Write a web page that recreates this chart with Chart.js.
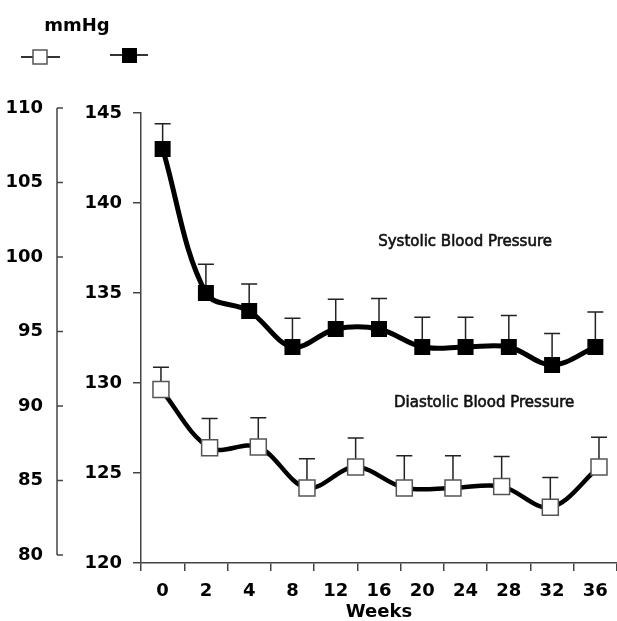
<!DOCTYPE html>
<html>
<head>
<meta charset="utf-8">
<script src="https://cdn.jsdelivr.net/npm/chart.js@4.4.0/dist/chart.umd.min.js"></script>
<style>
  html, body { margin: 0; padding: 0; background: #fff; overflow: hidden; }
  canvas { display: block; }
</style>
</head>
<body>
<canvas id="bpChart" width="617" height="621"></canvas>
<script>
var weeks = ['0', '2', '4', '8', '12', '16', '20', '24', '28', '32', '36'];
var systolic = [143, 135, 134, 132, 133, 133, 132, 132, 132, 131, 132];
var systolicErr = [1.4, 1.6, 1.5, 1.6, 1.65, 1.7, 1.65, 1.65, 1.75, 1.75, 1.95];
var diastolic = [91.1, 87.2, 87.25, 84.5, 85.9, 84.5, 84.5, 84.6, 83.2, 85.9];
var diastolicErr = [1.5, 1.95, 1.95, 1.95, 1.95, 2.15, 2.15, 2.0, 2.0, 2.0];
var systolicTicks = [120, 125, 130, 135, 140, 145];
var diastolicTicks = [80, 85, 90, 95, 100, 105, 110];

var tickFont = { family: 'DejaVu Sans', weight: 'bold', size: 18 };
var axisColor = '#444';

// error bars (upper only), drawn under the markers
var errorBars = {
  id: 'errorBars',
  beforeDatasetsDraw: function (chart) {
    var ctx = chart.ctx;
    ctx.save();
    ctx.strokeStyle = '#222';
    ctx.lineWidth = 1.5;
    chart.data.datasets.forEach(function (ds, di) {
      var meta = chart.getDatasetMeta(di);
      var ys = chart.scales[ds.yAxisID];
      meta.data.forEach(function (pt, i) {
        var raw = ds.data[i];
        var v = typeof raw === 'object' ? raw.y : raw;
        var top = ys.getPixelForValue(v + ds.errors[i]);
        ctx.beginPath();
        ctx.moveTo(pt.x, pt.y);
        ctx.lineTo(pt.x, top);
        ctx.moveTo(pt.x - 8, top);
        ctx.lineTo(pt.x + 8, top);
        ctx.stroke();
      });
    });
    ctx.restore();
  }
};

// labels, outer axis line and the small legend
var extras = {
  id: 'extras',
  afterDraw: function (chart) {
    var ctx = chart.ctx;
    var x = chart.scales.x, y = chart.scales.y, yd = chart.scales.yD;
    ctx.save();

    // outer (diastolic) axis line with inward ticks
    ctx.strokeStyle = axisColor;
    ctx.lineWidth = 1.5;
    ctx.beginPath();
    ctx.moveTo(yd.right, yd.getPixelForValue(110));
    ctx.lineTo(yd.right, yd.getPixelForValue(80));
    diastolicTicks.forEach(function (t) {
      var py = yd.getPixelForValue(t);
      ctx.moveTo(yd.right, py);
      ctx.lineTo(yd.right + 6, py);
    });
    ctx.stroke();

    ctx.fillStyle = '#111';
    ctx.strokeStyle = '#111';
    ctx.lineWidth = 0.6;
    ctx.font = '15px "DejaVu Sans"';
    ctx.textAlign = 'center';
    ctx.textBaseline = 'middle';
    var sx = x.getPixelForValue(6.99), sy = y.getPixelForValue(137.8);
    var dx = x.getPixelForValue(7.43), dy = y.getPixelForValue(128.9);
    ctx.fillText('Systolic Blood Pressure', sx, sy);
    ctx.strokeText('Systolic Blood Pressure', sx, sy);
    ctx.fillText('Diastolic Blood Pressure', dx, dy);
    ctx.strokeText('Diastolic Blood Pressure', dx, dy);

    ctx.fillStyle = '#000';
    ctx.font = 'bold 18px "DejaVu Sans"';
    ctx.fillText('mmHg', 77, 26);

    // legend markers
    ctx.strokeStyle = '#333';
    ctx.lineWidth = 2;
    ctx.beginPath();
    ctx.moveTo(21, 57); ctx.lineTo(60, 57);
    ctx.moveTo(110, 55); ctx.lineTo(148, 55);
    ctx.stroke();
    ctx.fillStyle = '#fff';
    ctx.strokeStyle = '#555';
    ctx.lineWidth = 1.5;
    ctx.fillRect(33, 50, 14, 14);
    ctx.strokeRect(33, 50, 14, 14);
    ctx.fillStyle = '#000';
    ctx.fillRect(122, 48, 15, 15);
    ctx.restore();
  }
};

var ctx = document.getElementById('bpChart');
var bpChart = new Chart(ctx, {
  type: 'line',
  data: {
    labels: weeks,
    datasets: [
      {
        label: 'Systolic Blood Pressure',
        data: systolic,
        errors: systolicErr,
        xAxisID: 'x',
        yAxisID: 'y',
        borderColor: '#000',
        borderWidth: 5,
        tension: 0.35,
        pointStyle: 'rect',
        pointRadius: 11.3,
        pointBackgroundColor: '#000',
        pointBorderColor: '#000',
        pointBorderWidth: 0,
      },
      {
        label: 'Diastolic Blood Pressure',
        data: diastolic.map(function (v, i) { return { x: i, y: v }; }),
        errors: diastolicErr,
        xAxisID: 'x2',
        yAxisID: 'yD',
        borderColor: '#000',
        borderWidth: 4.5,
        tension: 0.35,
        pointStyle: 'rect',
        pointRadius: 11.3,
        pointBackgroundColor: '#fff',
        pointBorderColor: '#555',
        pointBorderWidth: 1.5,
      },
    ],
  },
  options: {
    responsive: false,
    animation: false,
    devicePixelRatio: 1,
    layout: { autoPadding: false, padding: { top: 113, left: 0, right: 0, bottom: 0 } },
    plugins: {
      legend: { display: false },
      tooltip: { enabled: false },
    },
    scales: {
      x: {
        type: 'category',
        offset: true,
        grid: { offset: true, drawOnChartArea: false, tickLength: 8, color: axisColor, lineWidth: 1.5 },
        border: { color: axisColor, width: 1.5 },
        ticks: { font: tickFont, color: '#000', padding: 10, maxRotation: 0, autoSkip: false },
        title: { display: true, text: 'Weeks', color: '#000', font: { family: 'DejaVu Sans', weight: 'bold', size: 18, lineHeight: 1 }, padding: 0 },
        afterFit: function (s) { s.height = 58; s.paddingLeft = 0; s.paddingRight = 0; },
      },
      x2: { type: 'linear', display: false, min: -0.41, max: 9.37 },
      y: {
        position: 'left',
        weight: 0,
        min: 120,
        max: 145,
        afterBuildTicks: function (s) { s.ticks = systolicTicks.map(function (v) { return { value: v }; }); },
        grid: { drawOnChartArea: false, tickLength: 8, color: axisColor, lineWidth: 1.5 },
        border: { color: axisColor, width: 1.5 },
        ticks: { font: tickFont, color: '#000', padding: 11 },
        afterFit: function (s) { s.width = 84; },
      },
      yD: {
        position: 'left',
        weight: 1,
        min: 79.46,
        max: 109.66,
        afterBuildTicks: function (s) { s.ticks = diastolicTicks.map(function (v) { return { value: v }; }); },
        grid: { drawOnChartArea: false, drawTicks: false },
        border: { display: false },
        ticks: { font: tickFont, color: '#000', padding: 14 },
        afterFit: function (s) { s.width = 57; },
      },
    },
  },
  plugins: [errorBars, extras],
});
</script>
</body>
</html>
